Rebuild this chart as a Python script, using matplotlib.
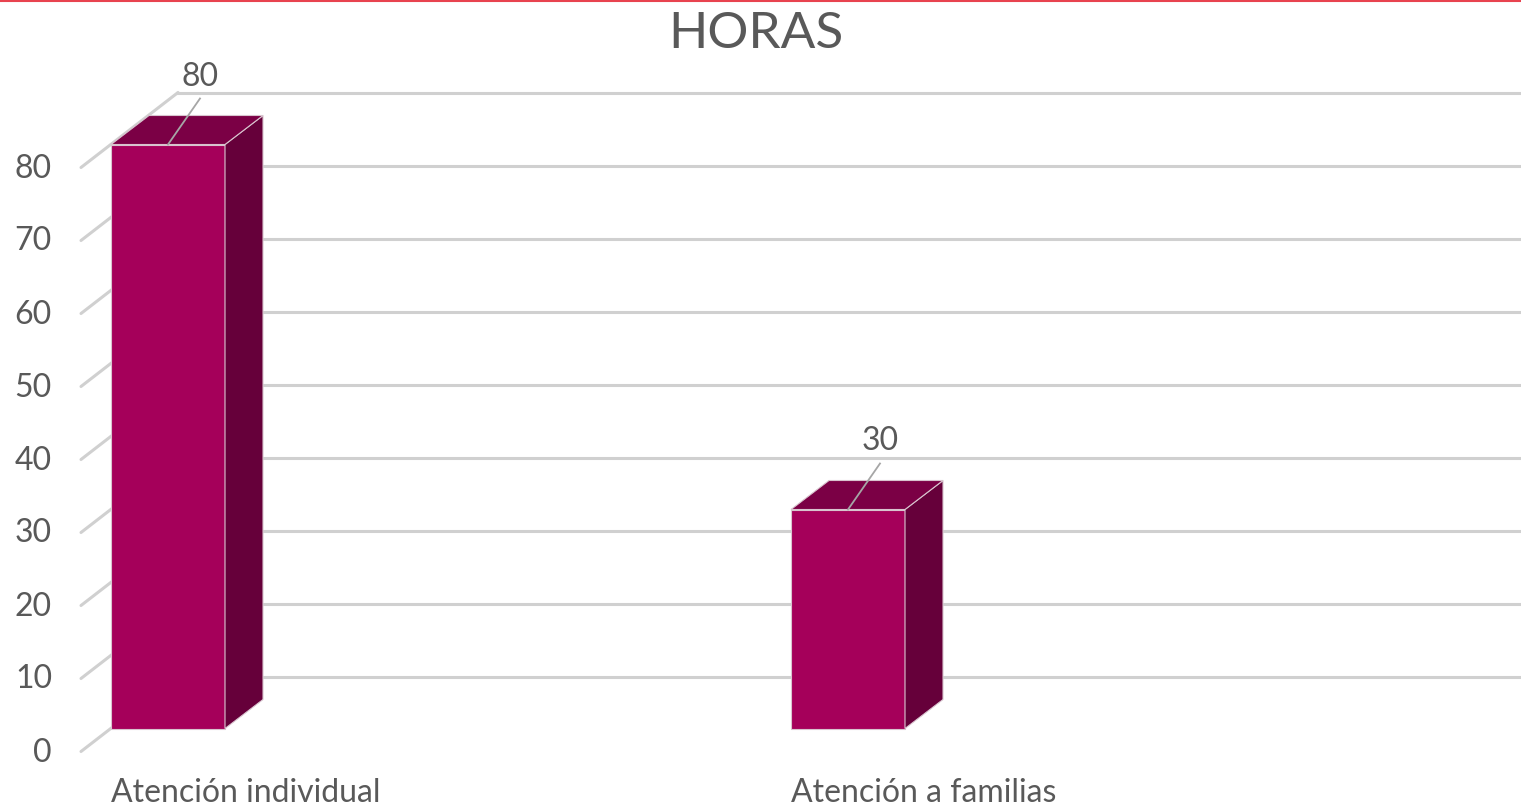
import matplotlib
matplotlib.use("Agg")
import matplotlib.pyplot as plt
from matplotlib.patches import Polygon

# data
categories = ["Atención individual", "Atención a familias"]
horas = [80, 30]
yticks = [0, 10, 20, 30, 40, 50, 60, 70, 80]
title = "HORAS"

# geometry (pixels of the 1521x806 canvas)
W, H, DPI = 1521, 806, 100
SX = 680.0     # px per category step
SY = 7.3       # px per hour
X0 = 138.0     # px of first category on the front plane
Y0 = 751.5     # px (from top) of value 0 on the front plane

c_front = "#a5005a"
c_top = "#7b0045"
c_side = "#66003a"
c_edge = "#d8c4ce"
c_grid = "#d0d0d0"
c_text = "#595959"

plt.rcParams['font.family'] = ['Lato', 'DejaVu Sans']


def px(dx, dy):
    # pixel offsets -> data units (dy positive = up)
    return dx / SX, dy / SY


fig = plt.figure(figsize=(W / DPI, H / DPI), dpi=DPI)
ax = fig.add_axes([0, 0, 1, 1])
ax.set_xlim(-X0 / SX, (W - X0) / SX)
ax.set_ylim(-(H - Y0) / SY, Y0 / SY)
ax.axis('off')

wall_dx, wall_dy = px(97, 75)
bf_dx, bf_dy = px(30, 23)      # bar front face depth
bd_dx, bd_dy = px(38, 29)      # bar depth
bar_w = 114 / SX
x_left = -57 / SX              # front edge of the side wall
x_right = (W - X0) / SX

# gridlines: side wall + back wall
for v in yticks:
    ax.plot([x_left, x_left + wall_dx], [v, v + wall_dy], color=c_grid, lw=2.2,
            solid_capstyle='round', zorder=1)
    ax.plot([x_left + wall_dx, x_right], [v + wall_dy, v + wall_dy], color=c_grid,
            lw=2.2, zorder=1)
    ax.text(x_left - 29 / SX, v - 1 / SY, str(v), ha='right', va='center', fontsize=23,
            color=c_text)

# bars
for i, v in enumerate(horas):
    L = i - bar_w / 2 + bf_dx
    R = L + bar_w
    b = bf_dy
    t = v + bf_dy
    ax.add_patch(Polygon([(L, b), (R, b), (R, t), (L, t)], closed=True,
                         facecolor=c_front, edgecolor=c_edge, lw=0.8, zorder=3))
    ax.add_patch(Polygon([(R, b), (R + bd_dx, b + bd_dy), (R + bd_dx, t + bd_dy), (R, t)],
                         closed=True, facecolor=c_side, edgecolor=c_edge, lw=0.8, zorder=3))
    ax.add_patch(Polygon([(L, t), (R, t), (R + bd_dx, t + bd_dy), (L + bd_dx, t + bd_dy)],
                         closed=True, facecolor=c_top, edgecolor=c_edge, lw=0.8, zorder=3))
    # data label with leader line
    ax0 = (L + R) / 2
    lx, ly = px(32, 46)
    ax.plot([ax0, ax0 + lx], [t, t + ly], color="#a6a6a6", lw=1.3, zorder=4)
    tx, ty = px(32, 68)
    ax.text(ax0 + tx, t + ty, str(v), ha='center', va='center', fontsize=23,
            color=c_text, zorder=5)
    # category label
    ax.text(L, -42 / SY, categories[i], ha='left', va='center', fontsize=23,
            color=c_text)

fig.text(0.497, 1 - 34 / H, title, ha='center', va='center', fontsize=37,
         color=c_text)
fig.add_artist(plt.Line2D([0, 1], [1 - 1 / H, 1 - 1 / H], color="#e8434f", lw=1.5,
                          transform=fig.transFigure))

fig.savefig("out.png", dpi=DPI, facecolor='white')
